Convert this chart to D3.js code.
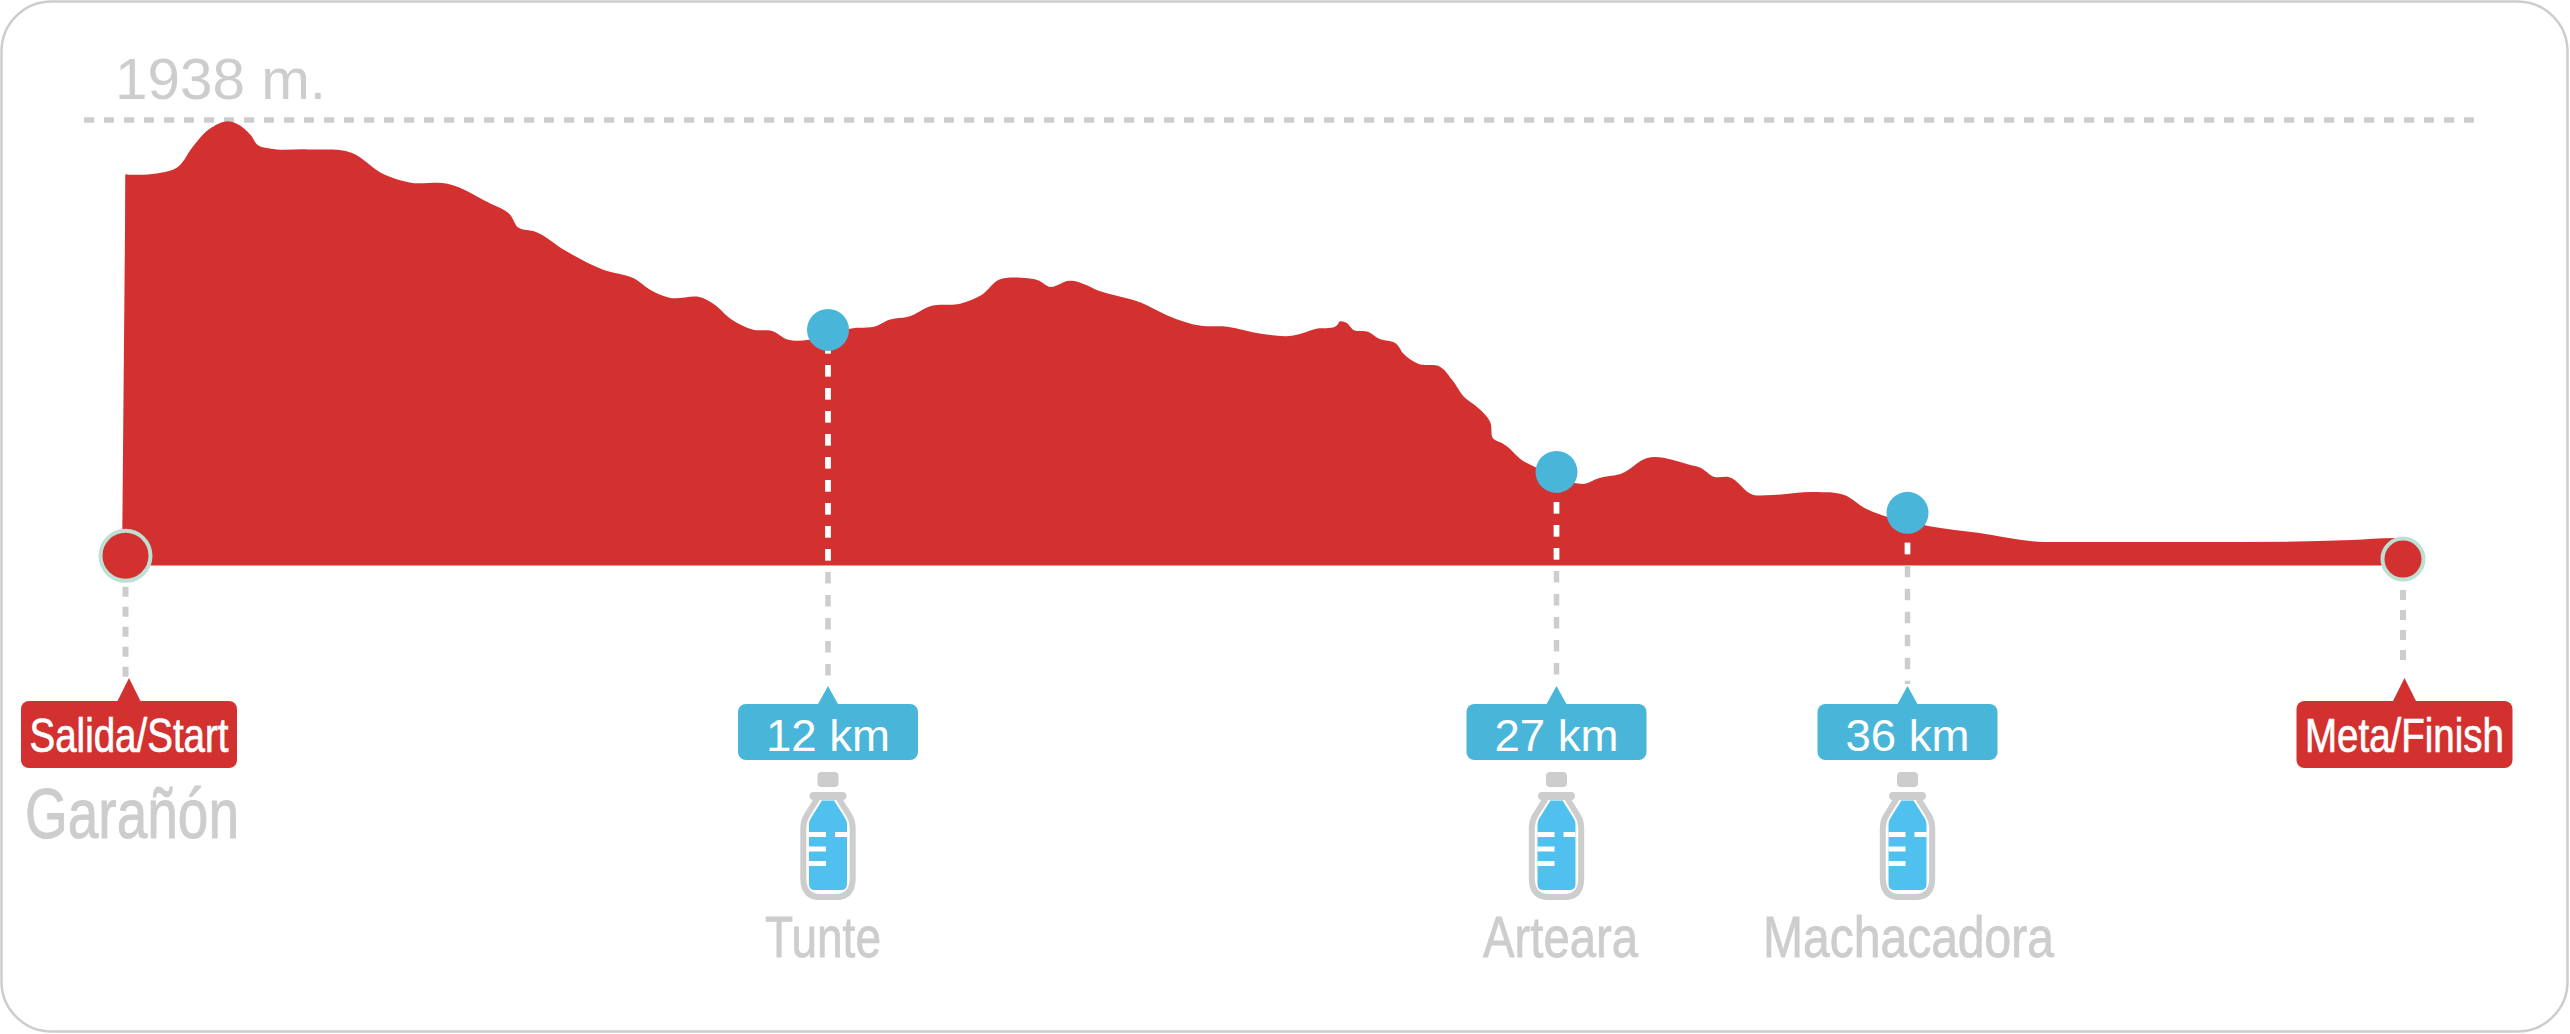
<!DOCTYPE html>
<html>
<head>
<meta charset="utf-8">
<style>
  html, body { margin: 0; padding: 0; background: #fff; }
  svg { display: block; }
  text { font-family: "Liberation Sans", Arial, sans-serif; }
  .narrow { font-family: "Liberation Sans Narrow", "Liberation Sans", Arial, sans-serif; }
</style>
<script src="https://cdn.jsdelivr.net/npm/d3@7"></script>
</head>
<body>
<svg width="2570" height="1034"></svg>
<script>
// profile data: distance in km, altitude in m
var profileKm = [
  0, 0.53, 0.90, 1.14, 1.47, 1.72, 1.89, 2.13, 2.27, 2.46, 3.11, 3.86, 4.42, 4.85, 5.50,
  6.20, 6.57, 6.71, 7.00, 7.51, 8.16, 8.69, 8.96, 9.29, 9.85, 10.04, 10.36, 10.74, 11.03, 11.32, 11.68,
  12, 12.45, 13.01, 13.26, 13.65, 14.14, 14.72, 15.17, 15.52, 15.96, 16.35, 16.55, 16.97, 17.64, 18.45,
  19.00, 19.68, 20.22, 20.92, 21.58, 22.05, 22.49, 22.53, 22.67, 22.82, 23.12, 23.35, 23.70, 23.85,
  24.15, 24.61, 24.85, 25.12, 25.31, 25.64, 25.70, 25.91, 26.34, 26.59, 27,
  27.46, 27.67, 28.10, 28.64, 29.33, 30.41, 30.69, 31.05, 31.41, 32.05, 32.54, 33.62, 34.38, 34.95, 35.59,
  36, 36.25, 36.85, 37.66, 37.8, 38.1, 39.0, 39.40, 41.38, 41.89, 42
];
var profileAlt = [
  1701, 1705, 1735, 1818, 1905, 1932, 1923, 1875, 1827, 1814, 1810, 1796, 1701, 1666, 1661,
  1579, 1526, 1470, 1452, 1370, 1287, 1248, 1200, 1165, 1165, 1139, 1069, 1025, 1021, 982, 982,
  1000, 1030, 1043, 1069, 1082, 1130, 1139, 1178, 1243, 1252, 1239, 1213, 1239, 1191, 1143,
  1087, 1043, 1039, 1008, 1000, 1030, 1047, 1060, 1056, 1025, 1017, 986, 965, 921,
  878, 864, 808, 729, 699, 621, 551, 529, 451, 425, 381,
  359, 355, 381, 398, 468, 438, 425, 385, 385, 307, 307, 320, 307, 246, 207,
  192, 172, 142, 102, 102, 102, 102, 102, 111, 120, 120
];

var topAltitude = 1938;
var topLabel = "1938 m.";

// water stops
var stopKm = [12, 27, 36];
var stopAlt = [1025, 407, 229];
var stopLabels = ["12 km", "27 km", "36 km"];
var stopPlaces = ["Tunte", "Arteara", "Machacadora"];

// start and finish
var endKm = [0, 42];
var endAlt = [42, 28];
var endLabels = ["Salida/Start", "Meta/Finish"];
var startPlace = "Garañón";

var profile = profileKm.map(function(d, i) { return { km: d, alt: profileAlt[i] }; });
var stops = stopKm.map(function(d, i) { return { km: d, alt: stopAlt[i], label: stopLabels[i], place: stopPlaces[i] }; });
var ends = endKm.map(function(d, i) { return { km: d, alt: endAlt[i], label: endLabels[i] }; });

var red = "#d33130", blue = "#49b6d9", grey = "#cdcdcd", ring = "#bedfd3", water = "#50c1ef";

var svg = d3.select("svg");

// the drawing is not to scale along the route, so x is piecewise between the stops
var x = d3.scaleLinear()
    .domain([0, 12, 27, 36, 42])
    .range([125.5, 828, 1556.5, 1907.5, 2403]);

var y = d3.scaleLinear()
    .domain([0, topAltitude])
    .range([565.5, 120]);

//frame
svg.append("rect")
    .attr("x", 1.5).attr("y", 1.5)
    .attr("width", 2566).attr("height", 1030)
    .attr("rx", 50).attr("ry", 50)
    .attr("fill", "#fff")
    .attr("stroke", grey)
    .attr("stroke-width", 2.5);

//top altitude line and label
svg.append("line")
    .attr("x1", 84).attr("x2", 2476)
    .attr("y1", y(topAltitude)).attr("y2", y(topAltitude))
    .attr("stroke", grey)
    .attr("stroke-width", 5.5)
    .attr("stroke-dasharray", "10 10");

svg.append("text")
    .attr("x", 115).attr("y", 99)
    .attr("font-size", 58)
    .attr("fill", grey)
    .attr("textLength", 211)
    .attr("lengthAdjust", "spacingAndGlyphs")
    .text(topLabel);

//the profile itself
var area = d3.area()
    .x(function(d) { return x(d.km); })
    .y0(y(0))
    .y1(function(d) { return y(d.alt); })
    .curve(d3.curveCatmullRom.alpha(1));

svg.append("clipPath")
    .attr("id", "inside")
    .append("path")
    .attr("d", area(profile));

svg.append("path")
    .datum(profile)
    .attr("fill", red)
    .attr("d", area);

//the left edge leans out a little at the bottom
svg.append("path")
    .attr("fill", red)
    .attr("d", d3.line()([[x(0), y(profileAlt[0])], [x(0) - 3.5, y(0)], [x(0) + 1, y(0)], [x(0) + 1, y(profileAlt[0])]]));

//dashed droppers, grey below the area and white inside it
var dashShift = [12, 7, 7];

function dropper(sel, stroke) {
  return sel.append("line")
      .attr("x1", function(d) { return x(d.km); })
      .attr("x2", function(d) { return x(d.km); })
      .attr("y1", function(d, i) { return y(d.alt) + dashShift[i]; })
      .attr("y2", 684)
      .attr("stroke", stroke)
      .attr("stroke-width", 5.5)
      .attr("stroke-dasharray", "11.5 11.5");
}

var stopLines = svg.append("g").selectAll("line")
    .data(stops)
    .enter();
dropper(stopLines, grey);

var stopLinesWhite = svg.append("g")
    .attr("clip-path", "url(#inside)")
    .selectAll("line")
    .data(stops)
    .enter();
dropper(stopLinesWhite, "#fff");

svg.append("g").selectAll("line")
    .data(ends)
    .enter().append("line")
    .attr("x1", function(d) { return x(d.km); })
    .attr("x2", function(d) { return x(d.km); })
    .attr("y1", function(d) { return y(d.alt) + 31; })
    .attr("y2", function(d, i) { return i == 0 ? 677 : 668; })
    .attr("stroke", grey)
    .attr("stroke-width", 6)
    .attr("stroke-dasharray", "10 10");

//dots
svg.append("g").selectAll("circle")
    .data(stops)
    .enter().append("circle")
    .attr("cx", function(d) { return x(d.km); })
    .attr("cy", function(d) { return y(d.alt); })
    .attr("r", 21)
    .attr("fill", blue);

svg.append("g").selectAll("circle")
    .data(ends)
    .enter().append("circle")
    .attr("cx", function(d) { return x(d.km); })
    .attr("cy", function(d) { return y(d.alt); })
    .attr("r", function(d, i) { return i == 0 ? 25 : 20.5; })
    .attr("fill", red)
    .attr("stroke", ring)
    .attr("stroke-width", 4);

//callouts: a rounded box with a small peak on top
function callout(sel, w, top, h, peak, halfBase, fill) {
  sel.append("rect")
      .attr("x", -w / 2).attr("y", top)
      .attr("width", w).attr("height", h)
      .attr("rx", 8).attr("ry", 8)
      .attr("fill", fill);
  sel.append("path")
      .attr("d", "M" + (-halfBase) + "," + (top + 1) + "L0," + peak + "L" + halfBase + "," + (top + 1) + "Z")
      .attr("fill", fill);
}

var stopGroups = svg.append("g").selectAll("g")
    .data(stops)
    .enter().append("g")
    .attr("transform", function(d) { return "translate(" + x(d.km) + ",0)"; });

callout(stopGroups, 180, 704, 56, 686, 10.5, blue);

stopGroups.append("text")
    .attr("y", 751)
    .attr("text-anchor", "middle")
    .attr("font-size", 44)
    .attr("fill", "#fff")
    .attr("textLength", 124)
    .attr("lengthAdjust", "spacingAndGlyphs")
    .text(function(d) { return d.label; });

var endGroups = svg.append("g").selectAll("g")
    .data(ends)
    .enter().append("g")
    .attr("transform", function(d, i) { return "translate(" + (x(d.km) + (i == 0 ? 3.5 : 1.5)) + ",0)"; });

callout(endGroups, 216, 701, 67, 678, 12, red);

endGroups.append("text")
    .attr("class", "narrow")
    .attr("y", 752)
    .attr("text-anchor", "middle")
    .attr("font-size", 48)
    .attr("fill", "#fff")
    .attr("stroke", "#fff")
    .attr("stroke-width", 0.7)
    .attr("textLength", 199)
    .attr("lengthAdjust", "spacingAndGlyphs")
    .text(function(d) { return d.label; });

//bottles
var bottles = stopGroups.append("g")
    .attr("transform", "translate(0,772)");

bottles.append("rect")
    .attr("x", -10.5).attr("y", 0)
    .attr("width", 21).attr("height", 15)
    .attr("rx", 4)
    .attr("fill", grey);

bottles.append("path")
    .attr("d", "M-11,27L-21,43Q-24.7,49 -24.7,56V106Q-24.7,125 -8,125H8Q24.7,125 24.7,106V56Q24.7,49 21,43L11,27")
    .attr("fill", "none")
    .attr("stroke", grey)
    .attr("stroke-width", 6);

bottles.append("line")
    .attr("x1", -14.5).attr("x2", 14.5)
    .attr("y1", 24).attr("y2", 24)
    .attr("stroke", grey)
    .attr("stroke-width", 8)
    .attr("stroke-linecap", "round");

bottles.append("path")
    .attr("d", "M-6,28.5H6L17,46Q19,49 19,52V112Q19,118 13,118H-13Q-19,118 -19,112V52Q-19,49 -17,46Z")
    .attr("fill", water);

bottles.append("path")
    .attr("d", "M-19,62.5H-2M7,62.5H19M-19,77H-2M-19,91.5H-2")
    .attr("stroke", "#fff")
    .attr("stroke-width", 5);

//place names
var placeWidths = [116, 155, 291];

stopGroups.append("text")
    .attr("class", "narrow")
    .attr("y", 957)
    .attr("x", function(d, i) { return [-5, 4, 1][i]; })
    .attr("text-anchor", "middle")
    .attr("font-size", 57)
    .attr("fill", grey)
    .attr("stroke", grey)
    .attr("stroke-width", 0.8)
    .attr("textLength", function(d, i) { return placeWidths[i]; })
    .attr("lengthAdjust", "spacingAndGlyphs")
    .text(function(d) { return d.place; });

svg.append("text")
    .attr("class", "narrow")
    .attr("x", 25).attr("y", 838)
    .attr("font-size", 70)
    .attr("fill", grey)
    .attr("stroke", grey)
    .attr("stroke-width", 1)
    .attr("textLength", 214)
    .attr("lengthAdjust", "spacingAndGlyphs")
    .text(startPlace);
</script>
</body>
</html>
